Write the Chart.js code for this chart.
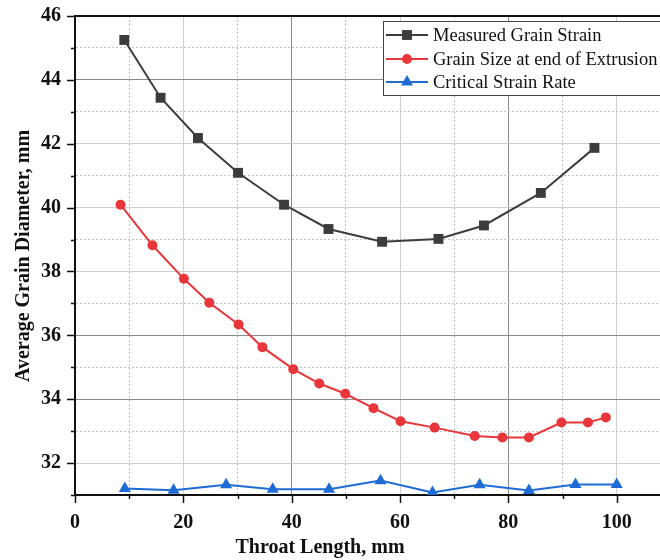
<!DOCTYPE html>
<html>
<head>
<meta charset="utf-8">
<script src="https://cdn.jsdelivr.net/npm/chart.js@4.4.0/dist/chart.umd.min.js"></script>
<style>
  html, body { margin: 0; padding: 0; background: #fff; }
  #wrap { width: 660px; height: 560px; position: relative; }
</style>
</head>
<body>
<div id="wrap"><canvas id="grainChart"></canvas></div>
<script>
// values
var measuredX = [9.1, 15.8, 22.7, 30.1, 38.6, 46.8, 56.7, 67.1, 75.5, 86.0, 95.9];
var measuredY = [45.25, 43.44, 42.18, 41.09, 40.09, 39.33, 38.93, 39.02, 39.44, 40.46, 41.87];

var extrusionX = [8.4, 14.3, 20.1, 24.8, 30.2, 34.6, 40.3, 45.1, 49.9, 55.1, 60.1, 66.4, 73.8, 78.9, 83.8, 89.8, 94.7, 98.0];
var extrusionY = [40.09, 38.82, 37.77, 37.02, 36.34, 35.63, 34.94, 34.49, 34.17, 33.72, 33.31, 33.11, 32.85, 32.80, 32.80, 33.27, 33.27, 33.43];

var criticalX = [9.2, 18.2, 27.9, 36.5, 46.9, 56.4, 66.0, 74.7, 83.8, 92.4, 100.0];
var criticalY = [31.2, 31.15, 31.32, 31.18, 31.18, 31.45, 31.08, 31.32, 31.14, 31.33, 31.33];

var seriesNames = ["Measured Grain Strain", "Grain Size at end of Extrusion", "Critical Strain Rate"];
var xTitle = "Throat Length, mm";
var yTitle = "Average Grain Diameter, mm";

var SERIF = "'Liberation Serif', 'Times New Roman', serif";

function pts(xs, ys) {
  return xs.map(function (x, i) { return { x: x, y: ys[i] }; });
}

var darkX = [40, 80];
var darkY = [44, 36, 34];

function isMul(v, m) {
  return Math.abs(v / m - Math.round(v / m)) < 1e-6;
}

function drawMarker(ctx, style, x, y, r, color) {
  ctx.save();
  ctx.fillStyle = color;
  ctx.beginPath();
  if (style === "rect") {
    var s = r * Math.SQRT1_2;
    ctx.rect(x - s, y - s, 2 * s, 2 * s);
  } else if (style === "circle") {
    ctx.arc(x, y, r, 0, Math.PI * 2);
  } else {
    ctx.moveTo(x, y - r);
    ctx.lineTo(x + r * 0.866, y + r * 0.5);
    ctx.lineTo(x - r * 0.866, y + r * 0.5);
    ctx.closePath();
  }
  ctx.fill();
  ctx.restore();
}

var decorPlugin = {
  id: "decor",
  afterDraw: function (chart) {
    var ctx = chart.ctx;
    var a = chart.chartArea;
    var xs = chart.scales.x, ys = chart.scales.y;
    ctx.save();

    // top frame line
    ctx.strokeStyle = "#111";
    ctx.lineWidth = 2;
    ctx.beginPath();
    ctx.moveTo(a.left, a.top);
    ctx.lineTo(a.right, a.top);
    ctx.stroke();

    // tick marks (outward, major longer)
    ctx.lineWidth = 1.5;
    ctx.strokeStyle = "#111";
    ys.ticks.forEach(function (t) {
      var py = Math.round(ys.getPixelForValue(t.value)) + 0.5;
      var len = isMul(t.value, 2) ? 8 : 4;
      ctx.beginPath();
      ctx.moveTo(a.left - len, py);
      ctx.lineTo(a.left, py);
      ctx.stroke();
    });
    xs.ticks.forEach(function (t) {
      if (t.value > 100.5) return;
      var px = Math.round(xs.getPixelForValue(t.value)) + 0.5;
      var len = isMul(t.value, 20) ? 8 : 4;
      ctx.beginPath();
      ctx.moveTo(px, a.bottom);
      ctx.lineTo(px, a.bottom + len);
      ctx.stroke();
    });

    // axis titles
    ctx.fillStyle = "#111";
    ctx.font = "bold 20px " + SERIF;
    ctx.textAlign = "center";
    ctx.textBaseline = "middle";
    ctx.fillText(xTitle, 320, 548);
    ctx.save();
    ctx.translate(24, 256);
    ctx.rotate(-Math.PI / 2);
    ctx.fillText(yTitle, 0, 0);
    ctx.restore();

    // legend box
    var lx = 383, ly = 21;
    ctx.fillStyle = "#fff";
    ctx.fillRect(lx, ly, 290, 74);
    ctx.strokeStyle = "#444";
    ctx.lineWidth = 1;
    ctx.strokeRect(lx + 0.5, ly + 0.5, 290, 74);
    var rows = [35, 59, 82];
    ctx.font = "18.5px " + SERIF;
    ctx.textAlign = "left";
    ctx.textBaseline = "middle";
    chart.data.datasets.forEach(function (ds, i) {
      var y = rows[i];
      ctx.strokeStyle = ds.borderColor;
      ctx.lineWidth = 2;
      ctx.beginPath();
      ctx.moveTo(386, y);
      ctx.lineTo(428, y);
      ctx.stroke();
      drawMarker(ctx, ds.pointStyle, 407, y, ds.pointRadius, ds.backgroundColor);
      ctx.fillStyle = "#111";
      ctx.fillText(ds.label, 433, y + 1);
    });

    ctx.restore();
  }
};

new Chart(document.getElementById("grainChart").getContext("2d"), {
  type: "line",
  data: {
    datasets: [{
      label: seriesNames[0],
      data: pts(measuredX, measuredY),
      borderColor: "#3c3c3c",
      backgroundColor: "#3c3c3c",
      borderWidth: 2,
      pointStyle: "rect",
      pointRadius: 7,
      pointBorderWidth: 0
    }, {
      label: seriesNames[1],
      data: pts(extrusionX, extrusionY),
      borderColor: "#e8363a",
      backgroundColor: "#e8363a",
      borderWidth: 2,
      pointStyle: "circle",
      pointRadius: 5,
      pointBorderWidth: 0
    }, {
      label: seriesNames[2],
      data: pts(criticalX, criticalY),
      borderColor: "#1f6bd6",
      backgroundColor: "#1f6bd6",
      borderWidth: 2,
      pointStyle: "triangle",
      pointRadius: 7,
      pointBorderWidth: 0
    }]
  },
  options: {
    responsive: true,
    maintainAspectRatio: false,
    animation: false,
    layout: { autoPadding: false, padding: { top: 16, right: 0, bottom: 0, left: 0 } },
    elements: { line: { tension: 0, fill: false } },
    plugins: {
      legend: { display: false },
      tooltip: { enabled: false }
    },
    scales: {
      x: {
        type: "linear",
        min: 0,
        max: 108,
        afterFit: function (s) {
          s.height = 65;
          s.paddingLeft = 0;
          s.paddingRight = 0;
        },
        border: {
          color: "#111",
          width: 2,
          dash: function (c) { return c.tick && !isMul(c.tick.value, 20) ? [2, 2] : []; }
        },
        grid: {
          drawTicks: false,
          lineWidth: 1,
          color: function (c) {
            var v = c.tick ? c.tick.value : 0;
            if (v <= 0 || v > 100.5) return "rgba(0,0,0,0)";
            if (!isMul(v, 20)) return "#c4c4c4";
            return darkX.indexOf(Math.round(v)) >= 0 ? "#8a8a8a" : "#cfcfcf";
          }
        },
        ticks: {
          stepSize: 10,
          includeBounds: false,
          maxTicksLimit: 30,
          autoSkip: false,
          maxRotation: 0,
          padding: 16,
          color: "#111",
          font: { family: SERIF, size: 20, weight: "bold" },
          callback: function (v) { return (isMul(v, 20) && v <= 100.5) ? Math.round(v) : ""; }
        }
      },
      y: {
        min: 31,
        max: 46,
        afterFit: function (s) {
          s.width = 75;
          s.paddingTop = 0;
          s.paddingBottom = 0;
        },
        border: {
          color: "#111",
          width: 2,
          dash: function (c) { return c.tick && !isMul(c.tick.value, 2) ? [2, 2] : []; }
        },
        grid: {
          drawTicks: false,
          lineWidth: 1,
          color: function (c) {
            var v = c.tick ? c.tick.value : 0;
            if (v <= 31 || v >= 46) return "rgba(0,0,0,0)";
            if (!isMul(v, 2)) return "#c4c4c4";
            return darkY.indexOf(Math.round(v)) >= 0 ? "#8a8a8a" : "#cfcfcf";
          }
        },
        ticks: {
          stepSize: 1,
          maxTicksLimit: 30,
          autoSkip: false,
          padding: 14,
          color: "#111",
          font: { family: SERIF, size: 20, weight: "bold" },
          callback: function (v) { return isMul(v, 2) ? Math.round(v) : ""; }
        }
      }
    }
  },
  plugins: [decorPlugin]
});
</script>
</body>
</html>
